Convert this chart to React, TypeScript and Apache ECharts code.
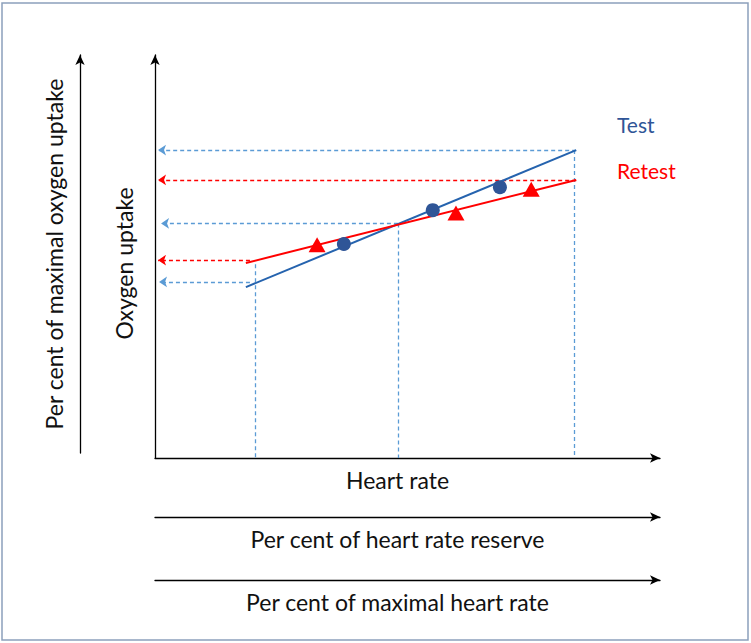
import React, { useEffect, useRef } from "react";
import * as echarts from "echarts";

// Axis titles
const xAxisNames = ["Heart rate", "Per cent of heart rate reserve", "Per cent of maximal heart rate"];
const yAxisNames = ["Oxygen uptake", "Per cent of maximal oxygen uptake"];
const legendNames = ["Test", "Retest"];

// Regression lines (x = % of heart-rate axis, y = % of oxygen-uptake axis)
const testFit = [[18.0, 42.4], [83.4, 76.4]];
const retestFit = [[18.0, 48.4], [83.4, 69.0]];

// Measured points
const testPoints = [[37.4, 53.1], [55.0, 61.5], [68.3, 67.2]];
const retestPoints = [[32.1, 52.9], [59.6, 60.8], [74.5, 66.7]];

// Dashed read-off guides
const testGuidesH = [
  [[83.4, 76.4], [0.6, 76.4]],
  [[48.1, 58.2], [1.2, 58.2]],
  [[18.8, 43.7], [0.8, 43.7]],
];
const retestGuidesH = [
  [[83.4, 69.0], [0.6, 69.0]],
  [[18.8, 49.1], [0.6, 49.1]],
];
const guidesV = [
  [[19.8, 48.1], [19.8, 0]],
  [[48.1, 58.2], [48.1, 0]],
  [[83.0, 76.4], [83.0, 0]],
];

const FONT = "Lato";
const TEXT_COLOR = "#111";
const BLUE_DARK = "#2F5597";
const BLUE_LINE = "#2563AE";
const BLUE_LIGHT = "#5B9BD5";
const RED = "#FF0000";

export default function App() {
  const ref = useRef<HTMLDivElement>(null);

  useEffect(() => {
    if (!ref.current) return;
    const chart = echarts.init(ref.current, undefined, { renderer: "svg" });

    const arrowLine = {
      show: true,
      onZero: false,
      symbol: ["none", "arrow"],
      symbolSize: [7, 10],
      lineStyle: { color: "#000", width: 1.3 },
    };
    const xNameStyle = { fontSize: 23, fontFamily: FONT, color: TEXT_COLOR, padding: [0, 20, 0, 0] };
    const hidden = { show: false };

    const option: any = {
      animation: false,
      backgroundColor: "#fff",
      grid: [
        { left: 155, top: 55, width: 505, height: 403 },
        { left: 155, top: 507, width: 505, height: 10 },
        { left: 155, top: 570, width: 505, height: 10 },
        { left: 80, top: 55, width: 10, height: 398 },
      ],
      xAxis: [
        {
          gridIndex: 0, type: "value", min: 0, max: 100,
          axisLine: arrowLine, axisTick: hidden, axisLabel: hidden, splitLine: hidden,
          name: xAxisNames[0], nameLocation: "middle", nameGap: 10, nameTextStyle: xNameStyle,
        },
        {
          gridIndex: 1, type: "value", min: 0, max: 100,
          axisLine: arrowLine, axisTick: hidden, axisLabel: hidden, splitLine: hidden,
          name: xAxisNames[1], nameLocation: "middle", nameGap: 10, nameTextStyle: xNameStyle,
        },
        {
          gridIndex: 2, type: "value", min: 0, max: 100,
          axisLine: arrowLine, axisTick: hidden, axisLabel: hidden, splitLine: hidden,
          name: xAxisNames[2], nameLocation: "middle", nameGap: 10, nameTextStyle: xNameStyle,
        },
        { gridIndex: 3, type: "value", min: 0, max: 1, show: false },
      ],
      yAxis: [
        {
          gridIndex: 0, type: "value", min: 0, max: 100,
          axisLine: arrowLine, axisTick: hidden, axisLabel: hidden, splitLine: hidden,
          name: yAxisNames[0], nameLocation: "middle", nameGap: 20, nameRotate: 90,
          nameTextStyle: { fontSize: 23, fontFamily: FONT, color: TEXT_COLOR, padding: [0, 14, 0, 0] },
        },
        { gridIndex: 1, type: "value", min: 0, max: 1, show: false },
        { gridIndex: 2, type: "value", min: 0, max: 1, show: false },
        {
          gridIndex: 3, type: "value", min: 0, max: 100,
          axisLine: arrowLine, axisTick: hidden, axisLabel: hidden, splitLine: hidden,
          name: yAxisNames[1], nameLocation: "middle", nameGap: 15, nameRotate: 90,
          nameTextStyle: { fontSize: 23, fontFamily: FONT, color: TEXT_COLOR },
        },
      ],
      graphic: [
        {
          type: "rect",
          shape: { x: 2, y: 3, width: 746, height: 637 },
          style: { fill: "none", stroke: "#8CA0BC", lineWidth: 1.5 },
          silent: true,
        },
        {
          type: "text", x: 617, y: 124,
          style: { text: legendNames[0], fill: BLUE_DARK, fontSize: 21, fontFamily: FONT, verticalAlign: "middle" },
        },
        {
          type: "text", x: 617, y: 170,
          style: { text: legendNames[1], fill: RED, fontSize: 21, fontFamily: FONT, verticalAlign: "middle" },
        },
      ],
      series: [
        {
          type: "lines", coordinateSystem: "cartesian2d", xAxisIndex: 0, yAxisIndex: 0, z: 1,
          symbol: ["none", "none"],
          lineStyle: { color: BLUE_LIGHT, width: 1.3, type: [4, 3], opacity: 1 },
          data: guidesV.map((c) => ({ coords: c })),
        },
        {
          type: "lines", coordinateSystem: "cartesian2d", xAxisIndex: 0, yAxisIndex: 0, z: 1,
          symbol: ["none", "arrow"], symbolSize: 8,
          lineStyle: { color: BLUE_LIGHT, width: 1.3, type: [4, 3], opacity: 1 },
          data: testGuidesH.map((c) => ({ coords: c })),
        },
        {
          type: "lines", coordinateSystem: "cartesian2d", xAxisIndex: 0, yAxisIndex: 0, z: 1,
          symbol: ["none", "arrow"], symbolSize: 8,
          lineStyle: { color: RED, width: 1.4, type: [4, 3], opacity: 1 },
          data: retestGuidesH.map((c) => ({ coords: c })),
        },
        {
          name: legendNames[0] + " fit", type: "line", xAxisIndex: 0, yAxisIndex: 0, z: 2,
          data: testFit, showSymbol: false, symbol: "none",
          lineStyle: { color: BLUE_LINE, width: 2 },
        },
        {
          name: legendNames[1] + " fit", type: "line", xAxisIndex: 0, yAxisIndex: 0, z: 2,
          data: retestFit, showSymbol: false, symbol: "none",
          lineStyle: { color: RED, width: 2 },
        },
        {
          name: legendNames[0], type: "scatter", xAxisIndex: 0, yAxisIndex: 0, z: 3,
          data: testPoints, symbol: "circle", symbolSize: 14,
          itemStyle: { color: BLUE_DARK, opacity: 1 },
        },
        {
          name: legendNames[1], type: "scatter", xAxisIndex: 0, yAxisIndex: 0, z: 3,
          data: retestPoints, symbol: "triangle", symbolSize: [17, 15],
          itemStyle: { color: RED, opacity: 1 },
        },
      ],
    };

    chart.setOption(option);
    return () => chart.dispose();
  }, []);

  return (
    <div
      ref={ref}
      style={{ position: "fixed", left: 0, top: 0, width: 751, height: 643, background: "#fff" }}
    />
  );
}
